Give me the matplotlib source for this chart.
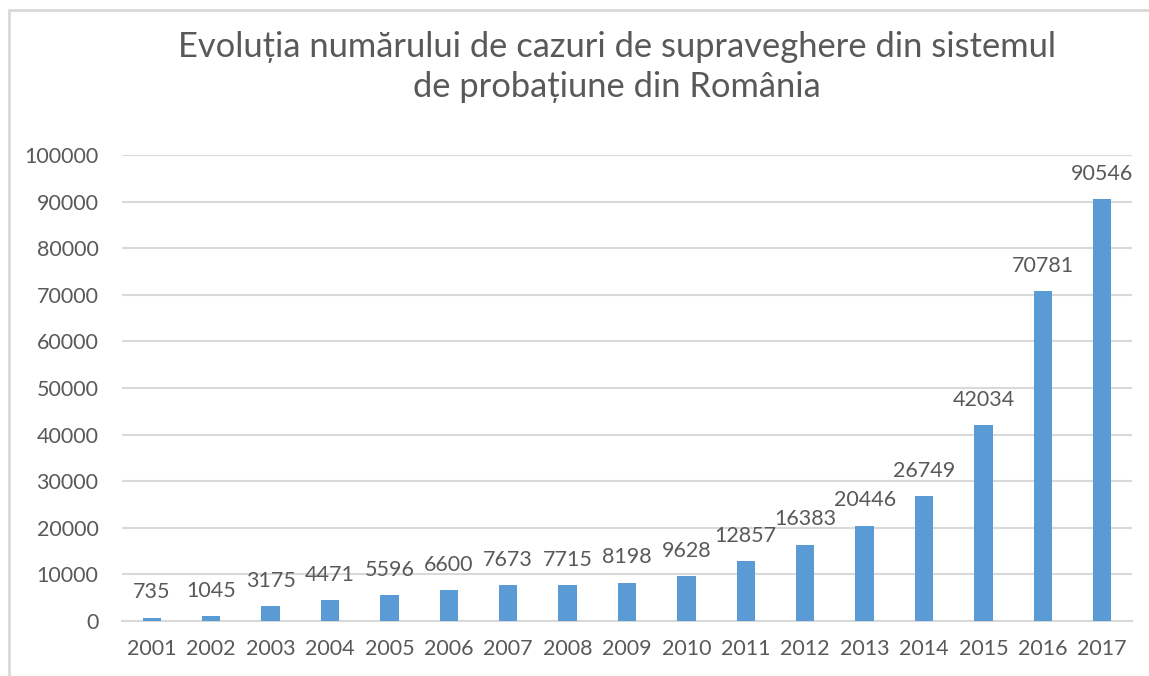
import matplotlib
matplotlib.use('agg')
import matplotlib.pyplot as plt
from matplotlib.patches import Rectangle

years = ['2001', '2002', '2003', '2004', '2005', '2006', '2007', '2008', '2009',
         '2010', '2011', '2012', '2013', '2014', '2015', '2016', '2017']
cases = [735, 1045, 3175, 4471, 5596, 6600, 7673, 7715, 8198,
         9628, 12857, 16383, 20446, 26749, 42034, 70781, 90546]
yticks = [0, 10000, 20000, 30000, 40000, 50000, 60000, 70000, 80000, 90000, 100000]

title = 'Evoluția numărului de cazuri de supraveghere din sistemul\nde probațiune din România'

plt.rcParams['font.family'] = ['Lato', 'DejaVu Sans']
grey = '#595959'
line = '#d9d9d9'

fig = plt.figure(figsize=(11.49, 6.76), dpi=100)
ax = fig.add_axes([0.1062, 0.0814, 0.8790, 0.6893])

x = range(len(years))
bars = ax.bar(x, cases, width=0.31, color='#5b9bd5', zorder=3)

# data labels above each bar
for xi, v in zip(x, cases):
    ax.annotate(str(v), (xi, v), xytext=(0, 11), textcoords='offset points',
                ha='center', va='bottom', fontsize=15.5, color=grey)

ax.set_xlim(-0.5, len(years) - 0.5)
ax.set_ylim(0, 100000)
ax.set_yticks(yticks)
ax.set_yticklabels([str(t) for t in yticks])
ax.set_xticks(list(x))
ax.set_xticklabels(years)
ax.tick_params(axis='both', length=0, labelsize=15.5, colors=grey)
ax.tick_params(axis='y', pad=17)
ax.tick_params(axis='x', pad=13)
ax.grid(axis='y', color=line, linewidth=1.5, zorder=0)
for s in ['top', 'right', 'left']:
    ax.spines[s].set_visible(False)
ax.spines['bottom'].set_color(line)
ax.spines['bottom'].set_linewidth(1.5)

fig.text(0.5366, 0.901, title, ha='center', va='center', fontsize=24.8,
         color=grey, linespacing=1.32)

# chart frame (cropped at right/bottom)
fig.patches.append(Rectangle((9 / 1149, -0.1), 1.2, 0.1 + 1 - 10 / 676,
                             transform=fig.transFigure, fill=False,
                             edgecolor=line, linewidth=2))

plt.savefig('out.png', dpi=100)
